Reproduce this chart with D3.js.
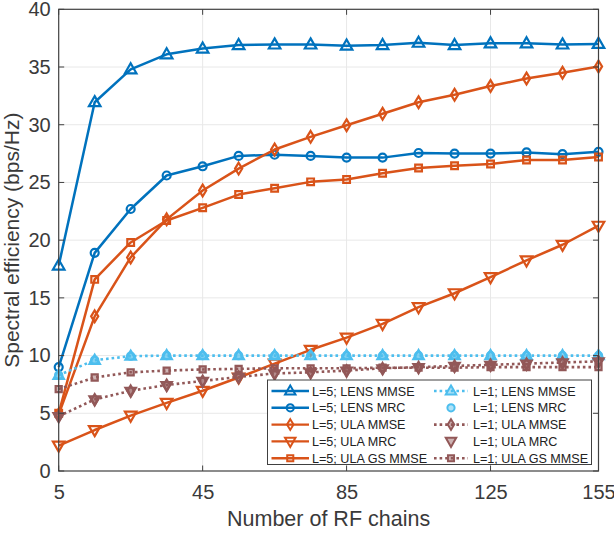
<!DOCTYPE html>
<html><head><meta charset="utf-8">
<script src="https://cdn.jsdelivr.net/npm/d3@7"></script>
<style>
html,body{margin:0;padding:0;background:#fff;}
text{font-family:"Liberation Sans",Arial,Helvetica,sans-serif;}
</style></head>
<body>
<svg id="chart" width="614" height="536"></svg>
<script>
const rfChains = [5,15,25,35,45,55,65,75,85,95,105,115,125,135,145,155];
const xTicks = [5,45,85,125,155];
const yTicks = [0,5,10,15,20,25,30,35,40];

const lensMmse5 = [17.8,31.95,34.8,36.1,36.6,36.9,36.95,36.95,36.85,36.9,37.1,36.9,37.05,37.05,36.95,37.0];
const lensMrc5  = [9.0,18.9,22.7,25.6,26.4,27.3,27.4,27.3,27.15,27.15,27.55,27.5,27.5,27.6,27.45,27.65];
const ulaMmse5  = [4.9,13.4,18.5,21.8,24.3,26.2,27.85,28.95,29.95,30.95,31.95,32.6,33.35,34.0,34.5,35.05];
const ulaMrc5   = [2.2,3.55,4.8,5.9,6.95,8.1,9.3,10.5,11.55,12.75,14.2,15.4,16.8,18.25,19.6,21.25];
const ulaGs5    = [5.0,16.6,19.8,21.7,22.8,23.95,24.5,25.05,25.25,25.8,26.25,26.45,26.6,26.95,26.95,27.2];
const lensMmse1 = [8.3,9.6,9.95,10.0,10.0,10.0,10.0,10.0,10.0,10.0,10.0,10.0,10.0,10.0,10.0,10.0];
const lensMrc1  = [8.3,9.6,9.95,10.0,10.0,10.0,10.0,10.0,10.0,10.0,10.0,10.0,10.0,10.0,10.0,10.0];
const ulaMmse1  = [4.75,6.2,6.95,7.45,7.8,8.15,8.45,8.55,8.7,8.9,9.0,9.1,9.2,9.3,9.4,9.5];
const ulaMrc1   = [4.7,6.15,6.9,7.4,7.75,8.1,8.4,8.5,8.65,8.85,8.95,9.05,9.15,9.25,9.35,9.45];
const ulaGs1    = [7.1,8.1,8.55,8.7,8.8,8.85,8.9,8.9,8.9,8.95,8.95,8.95,9.0,9.0,9.0,9.0];

const BLUE="#0072BD", ORANGE="#D95319", LBLUE="#4DBEEE", BROWN="#925858";
const series = [
  {name:"L=5; LENS MMSE", vals:lensMmse5, color:BLUE, marker:"tri", line:"solid", big:true},
  {name:"L=5; LENS MRC", vals:lensMrc5, color:BLUE, marker:"circle", line:"solid", big:true},
  {name:"L=5; ULA MMSE", vals:ulaMmse5, color:ORANGE, marker:"diamond", line:"solid", big:true},
  {name:"L=5; ULA MRC", vals:ulaMrc5, color:ORANGE, marker:"tridown", line:"solid", big:true},
  {name:"L=5; ULA GS MMSE", vals:ulaGs5, color:ORANGE, marker:"square", line:"solid", big:true},
  {name:"L=1; LENS MMSE", vals:lensMmse1, color:LBLUE, marker:"tri", line:"dot", big:false},
  {name:"L=1; LENS MRC", vals:lensMrc1, color:LBLUE, marker:"circle", line:"none", big:false},
  {name:"L=1; ULA MMSE", vals:ulaMmse1, color:BROWN, marker:"diamond", line:"dot", big:false},
  {name:"L=1; ULA MRC", vals:ulaMrc1, color:BROWN, marker:"tridown", line:"none", big:false},
  {name:"L=1; ULA GS MMSE", vals:ulaGs1, color:BROWN, marker:"square", line:"dot", big:false}
];

const L=58.7, R=598.5, T=9.3, B=471;
const x = d3.scaleLinear().domain([5,155]).range([L,R]);
const y = d3.scaleLinear().domain([0,40]).range([B,T]);
const svg = d3.select("#chart");
const AX="#404040", TXT="#3a3a3a";

// grid
const g = svg.append("g");
g.selectAll(".gx").data(xTicks.slice(1,-1)).join("line")
  .attr("x1",d=>x(d)).attr("x2",d=>x(d)).attr("y1",T).attr("y2",B)
  .attr("stroke","#e8e8e8").attr("stroke-width",1);
g.selectAll(".gy").data(yTicks.slice(1,-1)).join("line")
  .attr("x1",L).attr("x2",R).attr("y1",d=>y(d)).attr("y2",d=>y(d))
  .attr("stroke","#e8e8e8").attr("stroke-width",1);

function markerPath(type, s){
  switch(type){
    case "tri": return `M0,${-s*0.58}L${s*0.55},${s*0.38}L${-s*0.55},${s*0.38}Z`;
    case "tridown": return `M0,${s*0.58}L${s*0.55},${-s*0.38}L${-s*0.55},${-s*0.38}Z`;
    case "diamond": return `M0,${-s*0.56}L${s*0.34},0L0,${s*0.56}L${-s*0.34},0Z`;
    case "square": return `M${-s*0.32},${-s*0.32}H${s*0.32}V${s*0.32}H${-s*0.32}Z`;
    case "circle": { const r=s*0.38; return `M${r},0A${r},${r} 0 1,1 ${-r},0A${r},${r} 0 1,1 ${r},0Z`; }
  }
}

const line = d3.line().x((d,i)=>x(rfChains[i])).y(d=>y(d));
const plot = svg.append("g");
series.forEach(s=>{
  if(s.line!=="none"){
    plot.append("path").attr("d",line(s.vals)).attr("fill","none")
      .attr("stroke",s.color).attr("stroke-width",s.line==="dot"?2.6:2.5)
      .attr("stroke-dasharray",s.line==="dot"?"2.6,3":null)
      .attr("stroke-linejoin","round");
  }
  const size = s.big?10.5:9.5;
  plot.selectAll(null).data(s.vals).join("path")
    .attr("transform",(d,i)=>`translate(${x(rfChains[i])},${y(d)})`)
    .attr("d",markerPath(s.marker,size))
    .attr("fill",s.big?"none":s.color).attr("fill-opacity",s.big?0:0.45)
    .attr("stroke",s.color).attr("stroke-width",2.2);
});

// axes box
const axG = svg.append("g");
axG.append("rect").attr("x",L).attr("y",T).attr("width",R-L).attr("height",B-T)
  .attr("fill","none").attr("stroke",AX).attr("stroke-width",1.2);
const tl=5.5;
const xAxis = d3.axisBottom(x).tickValues(xTicks).tickSize(0).tickPadding(14).tickFormat(d3.format("d"));
const xa = svg.append("g").attr("transform",`translate(0,${B})`).call(xAxis);
xa.select(".domain").remove();
xa.selectAll("text").attr("font-size",20).attr("fill",TXT).attr("font-family","Liberation Sans, Arial");
const yAxis = d3.axisLeft(y).tickValues(yTicks).tickSize(0).tickPadding(8);
const ya = svg.append("g").attr("transform",`translate(${L},0)`).call(yAxis);
ya.select(".domain").remove();
ya.selectAll("text").attr("font-size",20).attr("fill",TXT).attr("font-family","Liberation Sans, Arial");
// inward ticks, all four sides
axG.selectAll(".tb").data(xTicks).join("line")
  .attr("x1",d=>x(d)).attr("x2",d=>x(d)).attr("y1",B).attr("y2",B-tl).attr("stroke",AX);
axG.selectAll(".tt").data(xTicks).join("line")
  .attr("x1",d=>x(d)).attr("x2",d=>x(d)).attr("y1",T).attr("y2",T+tl).attr("stroke",AX);
axG.selectAll(".tl").data(yTicks).join("line")
  .attr("x1",L).attr("x2",L+tl).attr("y1",d=>y(d)).attr("y2",d=>y(d)).attr("stroke",AX);
axG.selectAll(".tr").data(yTicks).join("line")
  .attr("x1",R).attr("x2",R-tl).attr("y1",d=>y(d)).attr("y2",d=>y(d)).attr("stroke",AX);

svg.append("text").attr("x",(L+R)/2).attr("y",526).attr("text-anchor","middle")
  .attr("font-size",21.5).attr("fill",TXT).text("Number of RF chains");
svg.append("text").attr("transform",`translate(19,${(T+B)/2}) rotate(-90)`)
  .attr("text-anchor","middle").attr("font-size",21).attr("fill",TXT)
  .text("Spectral efficiency (bps/Hz)");

// legend
const lg = svg.append("g");
const LX0=267.5, LY0=380, LW=324, LH=84.5;
lg.append("rect").attr("x",LX0).attr("y",LY0).attr("width",LW).attr("height",LH)
  .attr("fill","#fff").attr("stroke",AX).attr("stroke-width",1);
series.forEach((s,i)=>{
  const col = i<5?0:1, row=i%5;
  const x1 = col===0?271.5:434, x2 = col===0?309:468, tx = col===0?312:473;
  const cy = 391 + row*16.8;
  if(s.line!=="none"){
    lg.append("line").attr("x1",x1).attr("x2",x2).attr("y1",cy).attr("y2",cy)
      .attr("stroke",s.color).attr("stroke-width",s.line==="dot"?2.6:2.4)
      .attr("stroke-dasharray",s.line==="dot"?"2.6,3":null);
  }
  lg.append("path").attr("transform",`translate(${(x1+x2)/2},${cy})`)
    .attr("d",markerPath(s.marker,9.5))
    .attr("fill",s.big?"none":s.color).attr("fill-opacity",s.big?0:0.45)
    .attr("stroke",s.color).attr("stroke-width",2);
  lg.append("text").attr("x",tx).attr("y",cy).attr("dy","0.36em")
    .attr("font-size",12.6).attr("fill","#222").text(s.name);
});
</script>
</body></html>
